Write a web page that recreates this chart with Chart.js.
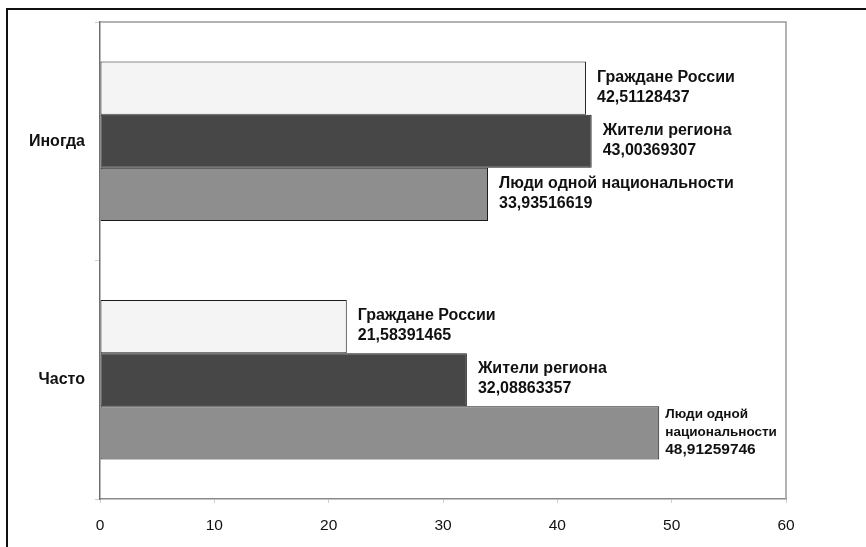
<!DOCTYPE html>
<html>
<head>
<meta charset="utf-8">
<script src="https://cdn.jsdelivr.net/npm/chart.js@4/dist/chart.umd.min.js"></script>
<style>
  html, body { margin: 0; padding: 0; background: #fff; }
  #wrap { position: relative; width: 866px; height: 547px; }
  #frame { position: absolute; left: 6px; top: 8px; right: -4px; bottom: -4px; border-left: 2px solid #111; border-top: 2px solid #111; pointer-events: none; }
  canvas { position: absolute; left: 0; top: 0; }
</style>
</head>
<body>
<div id="wrap">
  <canvas id="chart" width="866" height="547"></canvas>
  <div id="frame"></div>
</div>
<script>
// categories, top to bottom
const categories = ['Иногда', 'Часто'];
const seriesNames = ['Граждане России', 'Жители региона', 'Люди одной национальности'];
const citizens = [42.51128437, 21.58391465];
const residents = [43.00369307, 32.08863357];
const sameNation = [33.93516619, 48.91259746];
const xTicks = [0, 10, 20, 30, 40, 50, 60];

const colors = ['#f4f4f4', '#474747', '#8e8e8e'];
const FONT = '"Liberation Sans", Arial, sans-serif';

const fmt = v => String(v).replace('.', ',');

// labels to the right of each bar: series name + value
const barLabels = {
  id: 'barLabels',
  afterDatasetsDraw(chart) {
    const ctx = chart.ctx;
    const area = chart.chartArea;
    ctx.save();
    ctx.fillStyle = '#111';
    ctx.textBaseline = 'middle';
    ctx.textAlign = 'left';
    chart.data.datasets.forEach((ds, i) => {
      chart.getDatasetMeta(i).data.forEach((bar, j) => {
        let x = bar.x + 11;
        let lh = 20;
        ctx.font = 'bold 16px ' + FONT;
        let lines = [[ds.label, 16], [fmt(ds.data[j]), 16]];
        if (ctx.measureText(ds.label).width > area.right - x) {
          // not enough room: smaller font, wrap the name
          x = bar.x + 6;
          lh = 17.5;
          lines = ds.label.split(/ (?=\S+$)/).map(t => [t, 13.5]).concat([[fmt(ds.data[j]), 15.5]]);
        }
        const y0 = bar.y - (lines.length - 1) * lh / 2 - 1;
        lines.forEach(([t, size], k) => {
          ctx.font = 'bold ' + size + 'px ' + FONT;
          ctx.fillText(t, x, y0 + k * lh);
        });
      });
    });
    ctx.restore();
  }
};

// top and right edges of the plot area
const plotFrame = {
  id: 'plotFrame',
  beforeDatasetsDraw(chart) {
    const { ctx, chartArea: a } = chart;
    ctx.save();
    ctx.strokeStyle = '#9a9a9a';
    ctx.lineWidth = 1.5;
    ctx.beginPath();
    ctx.moveTo(a.left, a.top);
    ctx.lineTo(a.right, a.top);
    ctx.lineTo(a.right, a.bottom);
    ctx.stroke();
    ctx.restore();
  }
};

new Chart(document.getElementById('chart'), {
  type: 'bar',
  data: {
    labels: categories,
    datasets: [citizens, residents, sameNation].map((d, i) => ({
      label: seriesNames[i],
      data: d,
      backgroundColor: colors[i],
      borderColor: '#1a1a1a',
      borderWidth: 1,
      borderSkipped: false,
      categoryPercentage: 0.668,
      barPercentage: 1,
    })),
  },
  options: {
    indexAxis: 'y',
    responsive: false,
    animation: false,
    layout: { padding: { top: 22, right: 80, bottom: 0, left: 0 } },
    plugins: { legend: { display: false }, tooltip: { enabled: false } },
    scales: {
      x: {
        min: 0, max: 60,
        afterBuildTicks: s => { s.ticks = xTicks.map(v => ({ value: v })); },
        afterFit: s => { s.height = 48; },
        grid: { drawOnChartArea: false, tickLength: 4, color: '#d0d0d0' },
        border: { color: '#8a8a8a', width: 1.5 },
        ticks: { color: '#111', padding: 13, font: { family: FONT, size: 15.5 } },
      },
      y: {
        offset: true,
        afterFit: s => { s.width = 100; },
        grid: { offset: true, drawOnChartArea: false, tickLength: 5, color: '#cfcfcf' },
        border: { color: '#707070', width: 1.5 },
        ticks: { color: '#111', padding: 10, font: { family: FONT, size: 16, weight: 'bold' } },
      },
    },
  },
  plugins: [plotFrame, barLabels],
});
</script>
</body>
</html>
